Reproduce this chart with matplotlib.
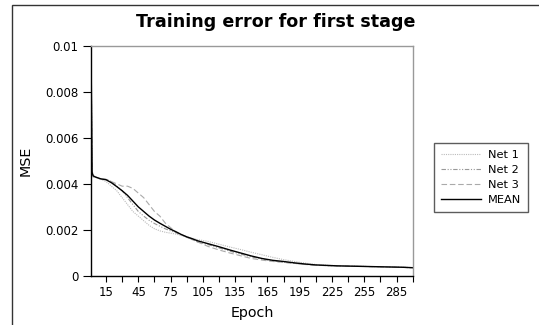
import matplotlib
matplotlib.use('Agg')
import matplotlib.pyplot as plt
import matplotlib.patches as mpatches
from matplotlib.ticker import FixedLocator, FixedFormatter

plt.rcParams.update({
    'font.family': 'DejaVu Sans',
    'font.size': 8.5,
})

# ---------- data ----------
EPOCH = [1, 2, 3, 5, 10, 15, 20, 25, 30, 35, 40, 45, 50, 55, 60, 65, 70, 75,
         80, 85, 90, 95, 100, 110, 120, 130, 140, 150, 160, 170, 180, 190,
         200, 210, 220, 230, 240, 250, 260, 270, 280, 290, 300]

NET1 = [0.0100, 0.0046, 0.0044, 0.0043, 0.0042, 0.0041, 0.0039, 0.0037,
        0.0034, 0.0031, 0.0028, 0.0026, 0.0024, 0.0022, 0.00205, 0.00196,
        0.00190, 0.00186, 0.00182, 0.00176, 0.00170, 0.00164, 0.00158,
        0.00150, 0.00138, 0.00126, 0.00115, 0.00103, 0.00092, 0.00081,
        0.00071, 0.00063, 0.00056, 0.00050, 0.00047, 0.00045, 0.00043,
        0.00042, 0.00041, 0.00040, 0.00039, 0.00038, 0.00037]

NET2 = [0.0100, 0.0045, 0.0043, 0.0043, 0.0042, 0.0042, 0.0041, 0.0039,
        0.0037, 0.0034, 0.0031, 0.0028, 0.0026, 0.00242, 0.00228, 0.00216,
        0.00205, 0.00196, 0.00188, 0.00178, 0.00168, 0.00158, 0.00148,
        0.00136, 0.00122, 0.00108, 0.00095, 0.00083, 0.00073, 0.00066,
        0.00060, 0.00055, 0.00051, 0.00047, 0.00045, 0.00044, 0.00043,
        0.00042, 0.00041, 0.00040, 0.00039, 0.00038, 0.00035]

NET3 = [0.0100, 0.0044, 0.0043, 0.0043, 0.0042, 0.0042, 0.0041, 0.0040,
        0.0039, 0.0039, 0.0038, 0.0036, 0.0034, 0.0031, 0.0028, 0.0026,
        0.0023, 0.0021, 0.0019, 0.0018, 0.0017, 0.00158, 0.00148,
        0.00128, 0.00113, 0.00100, 0.00088, 0.00076, 0.00069, 0.00063,
        0.00059, 0.00055, 0.00050, 0.00047, 0.00045, 0.00044, 0.00043,
        0.00042, 0.00041, 0.00040, 0.00039, 0.00038, 0.00036]

MEAN = [0.0100, 0.0045, 0.00435, 0.00430, 0.00422, 0.00418, 0.00405, 0.00388,
        0.00370, 0.00350, 0.00325, 0.00300, 0.00280, 0.00260, 0.00243,
        0.00229, 0.00216, 0.00203, 0.00192, 0.00180, 0.00170, 0.00162,
        0.00153, 0.00140, 0.00127, 0.00113, 0.00100, 0.00087, 0.00076,
        0.00068, 0.00063, 0.00057, 0.00052, 0.00048, 0.00046, 0.00044,
        0.00043, 0.00042, 0.00041, 0.00040, 0.00039, 0.00038, 0.00036]

X_TICKS = list(range(15, 301, 15))
X_LABELS = [str(t) if (t // 15) % 2 == 1 else '' for t in X_TICKS]
Y_TICKS = [0, 0.002, 0.004, 0.006, 0.008, 0.01]
Y_LABELS = ['0', '0.002', '0.004', '0.006', '0.008', '0.01']

# ---------- figure ----------
W, H = 539, 325
fig = plt.figure(figsize=(W / 100, H / 100), dpi=100)
ax = fig.add_axes([91 / W, 1 - 276 / H, (412.7 - 91) / W, (276 - 45.7) / H])

ax.plot(EPOCH, NET1, color='#bbbbbb', lw=0.8, ls=(0, (1, 1)), label='Net 1')
ax.plot(EPOCH, NET2, color='#999999', lw=0.8, ls=(0, (4, 1.5, 1, 1.5, 1, 1.5)), label='Net 2')
ax.plot(EPOCH, NET3, color='#aaaaaa', lw=0.8, ls=(0, (5, 2.5)), label='Net 3')
ax.plot(EPOCH, MEAN, color='black', lw=1.0, label='MEAN')

ax.set_xlim(1, 300)
ax.set_ylim(0, 0.01)
ax.xaxis.set_major_locator(FixedLocator(X_TICKS))
ax.xaxis.set_major_formatter(FixedFormatter(X_LABELS))
ax.yaxis.set_major_locator(FixedLocator(Y_TICKS))
ax.yaxis.set_major_formatter(FixedFormatter(Y_LABELS))
ax.tick_params(axis='x', direction='out', length=4.5, width=0.8, colors='black', pad=2.5)
ax.tick_params(axis='y', direction='out', length=5.5, width=0.8, colors='black', pad=3.5)

for s in ('top', 'right'):
    ax.spines[s].set_color('#999999')
    ax.spines[s].set_linewidth(1.0)
for s in ('left', 'bottom'):
    ax.spines[s].set_color('black')
    ax.spines[s].set_linewidth(1.0)

ax.set_xlabel('Epoch', fontsize=10.3, labelpad=5)
ax.set_ylabel('MSE', fontsize=10.3)
ax.yaxis.set_label_coords(-0.183, 0.5)
fig.text(276 / W, 1 - 21.7 / H, 'Training error for first stage', fontsize=12.6,
         fontweight='bold', ha='center', va='center')

leg = fig.legend(loc='upper left', bbox_to_anchor=(434.3 / W, 1 - 143.3 / H),
                 fontsize=8.2, frameon=True, fancybox=False, handlelength=3.5,
                 borderpad=0.62, labelspacing=0.42, handletextpad=0.6,
                 borderaxespad=0)
leg.get_frame().set_edgecolor('#333333')
leg.get_frame().set_linewidth(1.0)

# outer frame (only top and left edges fall inside the image)
frame = mpatches.Rectangle((12.3 / W, -0.2), 1.2, 1.2 - 5.3 / H,
                           transform=fig.transFigure, fill=False,
                           edgecolor='#333333', lw=1.0)
fig.patches.append(frame)

fig.savefig('out.png', dpi=100, facecolor='white')
